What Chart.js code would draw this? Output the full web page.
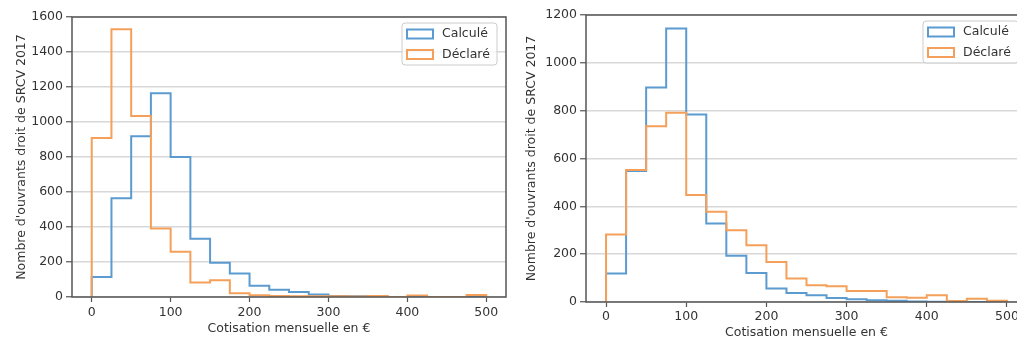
<!DOCTYPE html>
<html>
<head>
<meta charset="utf-8">
<script src="https://cdn.jsdelivr.net/npm/chart.js@4.4.1/dist/chart.umd.min.js"></script>
<style>
  html, body { margin: 0; padding: 0; background: #fff; width: 1017px; height: 340px; overflow: hidden; }
  canvas { position: absolute; top: 0; }
  #chartL { left: 0; }
  #chartR { left: 510px; }
</style>
</head>
<body>
<canvas id="chartL" width="520" height="340"></canvas>
<canvas id="chartR" width="530" height="340"></canvas>
<script>
// ---- data (bins of 25 € from 0 to 500) ----
const binEdges = [0, 25, 50, 75, 100, 125, 150, 175, 200, 225, 250, 275, 300, 325, 350, 375, 400, 425, 450, 475, 500];

// left panel
const calcL = [115, 565, 918, 1165, 800, 333, 196, 135, 65, 42, 28, 14, 6, 5, 3, 0, 0, 0, 0, 0];
const declL = [909, 1530, 1035, 392, 259, 83, 96, 22, 10, 6, 5, 5, 4, 3, 6, 0, 8, 0, 0, 12];

// right panel
const calcR = [119, 548, 897, 1144, 784, 328, 193, 121, 56, 38, 28, 17, 12, 7, 5, 2, 1, 1, 0, 0];
const declR = [282, 552, 735, 791, 447, 377, 300, 237, 167, 98, 70, 66, 46, 46, 20, 18, 28, 4, 14, 5];

const xTicks = [0, 100, 200, 300, 400, 500];
const yTicksL = [0, 200, 400, 600, 800, 1000, 1200, 1400, 1600];
const yTicksR = [0, 200, 400, 600, 800, 1000, 1200];

const seriesNames = ['Calculé', 'Déclaré'];
const seriesColors = ['#5b9bd0', '#f4a05a'];

const xTitle = 'Cotisation mensuelle en €';
const yTitle = "Nombre d'ouvrants droit de SRCV 2017";

const fontFamily = "'DejaVu Sans', sans-serif";
const fontSize = 12.5;
const textColor = '#333';
const spineColor = '#555';
const gridColor = '#d8d8d8';

// histtype="step" outline from counts
function stepPoints(counts) {
    const pts = [{ x: binEdges[0], y: 0 }];
    counts.forEach((c, i) => {
        pts.push({ x: binEdges[i], y: c });
        pts.push({ x: binEdges[i + 1], y: c });
    });
    pts.push({ x: binEdges[binEdges.length - 1], y: 0 });
    return pts;
}

// frame around plot + matplotlib-like legend box
const frameLegend = {
    id: 'frameLegend',
    afterDatasetsDraw(chart) {
        const a = chart.chartArea;
        const ctx = chart.ctx;
        ctx.save();
        ctx.strokeStyle = spineColor;
        ctx.lineWidth = 1.5;
        ctx.strokeRect(a.left, a.top, a.right - a.left, a.bottom - a.top);

        const w = 95, h = 42;
        const lx = a.right - 9 - w, ly = a.top + 6;
        ctx.fillStyle = 'rgba(255,255,255,0.8)';
        ctx.strokeStyle = '#cccccc';
        ctx.lineWidth = 1;
        ctx.beginPath();
        ctx.roundRect(lx, ly, w, h, 3);
        ctx.fill();
        ctx.stroke();

        ctx.font = fontSize + 'px ' + fontFamily;
        ctx.textBaseline = 'middle';
        seriesNames.forEach((name, i) => {
            const cy = ly + 11 + i * 20.5;
            ctx.strokeStyle = seriesColors[i];
            ctx.lineWidth = 2;
            ctx.strokeRect(lx + 5, cy - 4.5, 26, 9);
            ctx.fillStyle = textColor;
            ctx.fillText(name, lx + 40, cy);
        });
        ctx.restore();
    }
};

function makeChart(id, calc, decl, yTicks, box) {
    const tickFont = { family: fontFamily, size: fontSize };
    return new Chart(document.getElementById(id), {
        type: 'line',
        data: {
            datasets: [
                { label: seriesNames[0], data: stepPoints(calc), borderColor: seriesColors[0], order: 1 },
                { label: seriesNames[1], data: stepPoints(decl), borderColor: seriesColors[1], order: 0 }
            ]
        },
        options: {
            responsive: false,
            animation: false,
            layout: { padding: { left: 0, top: box.top, right: box.right, bottom: 0 } },
            elements: {
                line: { borderWidth: 2, tension: 0, fill: false },
                point: { radius: 0 }
            },
            plugins: { legend: { display: false }, tooltip: { enabled: false } },
            scales: {
                x: {
                    type: 'linear',
                    min: -25,
                    max: 525,
                    afterBuildTicks: s => { s.ticks = xTicks.map(v => ({ value: v })); },
                    afterFit: s => { s.height = box.xAxisH; },
                    ticks: { color: textColor, font: tickFont, padding: box.xTickPad, callback: v => String(v) },
                    grid: { drawOnChartArea: false, drawTicks: true, tickLength: 5, tickColor: spineColor, tickWidth: 1.2 },
                    border: { display: false },
                    title: { display: true, text: xTitle, color: textColor, font: tickFont, padding: { top: box.xTitlePad, bottom: box.xTitlePad } }
                },
                y: {
                    type: 'linear',
                    min: 0,
                    max: yTicks[yTicks.length - 1],
                    afterBuildTicks: s => { s.ticks = yTicks.map(v => ({ value: v })); },
                    afterFit: s => { s.width = box.yAxisW; },
                    ticks: { color: textColor, font: tickFont, padding: 3, callback: v => String(v) },
                    grid: { color: gridColor, lineWidth: 1.5, drawTicks: true, tickLength: 6, tickColor: spineColor, tickWidth: 1.2 },
                    border: { display: false },
                    title: { display: true, text: yTitle, color: textColor, font: tickFont, padding: { top: 14, bottom: 0 } }
                }
            }
        },
        plugins: [frameLegend]
    });
}

makeChart('chartL', calcL, declL, yTicksL, { top: 17, right: 14, xAxisH: 43, yAxisW: 72, xTickPad: 3, xTitlePad: 3.5 });
makeChart('chartR', calcR, declR, yTicksR, { top: 15, right: 13, xAxisH: 38, yAxisW: 76, xTickPad: 2, xTitlePad: 0 });
</script>
</body>
</html>
